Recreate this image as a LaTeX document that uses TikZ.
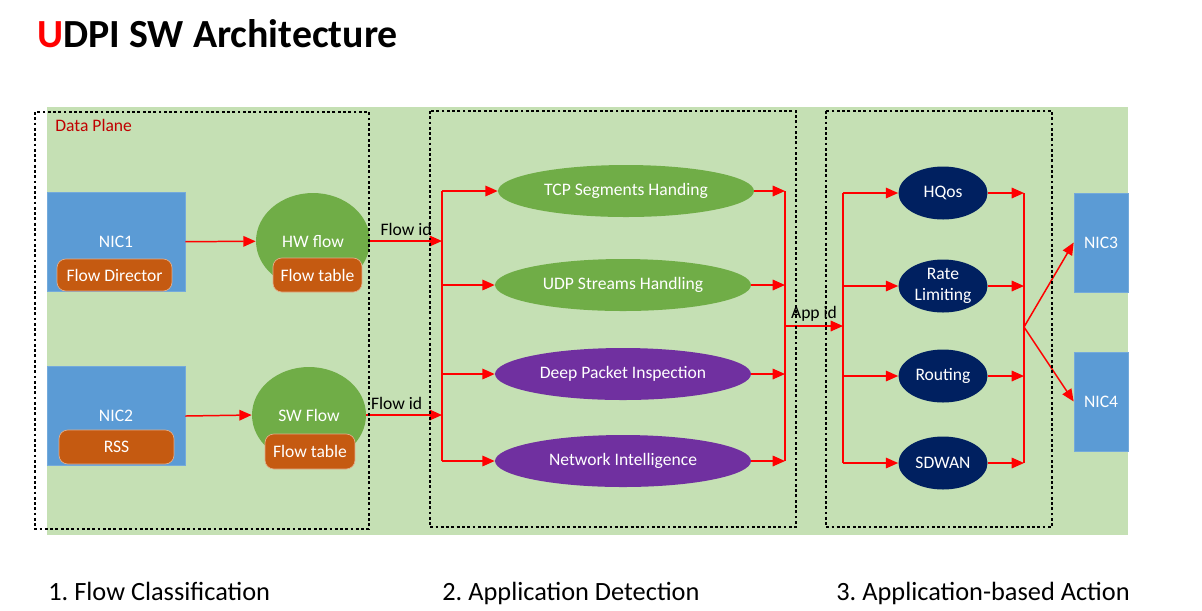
\documentclass[tikz,border=0pt]{standalone}
\usepackage{fontspec}
\setmainfont{Carlito}
\usetikzlibrary{shapes.geometric,arrows.meta}

\definecolor{planegreen}{HTML}{C5E0B4}
\definecolor{nicblue}{HTML}{5B9BD5}
\definecolor{taborange}{HTML}{C55A11}
\definecolor{appgreen}{HTML}{70AD47}
\definecolor{apppurple}{HTML}{7030A0}
\definecolor{actnavy}{HTML}{002060}
\definecolor{planered}{HTML}{C00000}

\tikzset{
  txt/.style={font=\fontsize{10}{12}\selectfont},
  nic/.style={txt, fill=nicblue, draw=nicblue!85!white, text=white, minimum width=2.76cm, minimum height=1.98cm, inner sep=0},
  tag/.style={txt, fill=taborange, draw=taborange!50!white, rounded corners=5pt, text=white, inner sep=0},
  flowball/.style={txt, ellipse, fill=appgreen, text=white, minimum width=2.28cm, minimum height=1.92cm, inner sep=0},
  detect/.style={txt, ellipse, text=white, minimum width=5.12cm, minimum height=1.04cm, inner sep=0},
  action/.style={txt, ellipse, fill=actnavy, text=white, minimum width=1.78cm, minimum height=1.06cm, inner sep=0, align=center},
  stage/.style={line width=1.6pt, dash pattern=on 1.6pt off 1.4pt},
  bus/.style={red, line width=0.85pt},
  flow/.style={bus, -{Triangle[length=7pt,width=6pt]}},
  idlabel/.style={txt, text=black, above, inner sep=2.5pt},
  caption/.style={anchor=base west, inner sep=0, font=\fontsize{15}{18}\selectfont},
}

\begin{document}
\frenchspacing
\begin{tikzpicture}[x=0.02cm, y=-0.02cm]
    \useasboundingbox (0,0) rectangle (1202,610);

    % title
    \node[anchor=base west, inner sep=0, font=\fontsize{22.7}{27}\selectfont\bfseries] (title) at (37,47) {{\color{red}U}DPI SW Architecture};

    % data plane
    \fill[planegreen] (47,107) rectangle (1128,535);
    \node[txt, anchor=west, text=planered, inner sep=0] (plane) at (55,125) {Data Plane};

    % stage 1
    \node[nic] (nic1) at (116,242) {NIC1};
    \node[tag, minimum width=2.3cm, minimum height=0.64cm] (fdir) at (114.5,275) {Flow Director};
    \node[nic] (nic2) at (116,416) {NIC2};
    \node[tag, minimum width=2.3cm, minimum height=0.68cm] (rss) at (116.5,447) {RSS};
    \node[flowball] (hw) at (313,241) {HW flow};
    \node[tag, minimum width=1.78cm, minimum height=0.68cm] (hwtab) at (317.5,275) {Flow table};
    \node[flowball] (sw) at (309,415) {SW Flow};
    \node[tag, minimum width=1.8cm, minimum height=0.7cm] (swtab) at (310,451.5) {Flow table};

    % stage 2
    \node[detect, fill=appgreen] (tcp) at (626,191) {TCP Segments Handing};
    \node[detect, fill=appgreen] (udp) at (623,285) {UDP Streams Handling};
    \node[detect, fill=apppurple] (dpi) at (623,374) {Deep Packet Inspection};
    \node[detect, fill=apppurple] (ni) at (623,461) {Network Intelligence};

    % stage 3
    \node[action] (hq) at (943,193) {HQos};
    \node[action] (rl) at (943,286) {Rate\\Limiting};
    \node[action] (rt) at (943,376) {Routing};
    \node[action] (sd) at (943,463) {SDWAN};
    \node[nic, minimum width=1.08cm] (nic3) at (1101,242.5) {NIC3};
    \node[nic, minimum width=1.08cm] (nic4) at (1101,401.5) {NIC4};

    \coordinate (busA) at (442,326);
    \coordinate (busB) at (785,326);
    \coordinate (busC) at (843,326);
    \coordinate (busD) at (1024,327);

    \draw[flow] (nic1) -- (hw);
    \draw[flow] (nic2.east) -- (sw.west);
    \draw[flow] (hw.east) -- (hw.east -| busA) node[idlabel, midway] {Flow id};
    \draw[flow] (sw.east) -- (sw.east -| busA) node[idlabel, pos=0.4] {Flow id};
    \draw[bus] (tcp.west -| busA) -- (ni.west -| busA);
    \foreach \n in {tcp,udp,dpi,ni}
      \draw[flow] (\n.west -| busA) -- (\n.west);
    \draw[bus] (tcp.east -| busB) -- (ni.east -| busB);
    \foreach \n in {tcp,udp,dpi,ni}
      \draw[flow] (\n.east) -- (\n.east -| busB);
    \draw[flow] (busB) -- (busC) node[idlabel, midway] {App id};
    \draw[bus] (hq.west -| busC) -- (sd.west -| busC);
    \foreach \n in {hq,rl,rt,sd}
      \draw[flow] (\n.west -| busC) -- (\n.west);
    \draw[bus] (hq.east -| busD) -- (sd.east -| busD);
    \foreach \n in {hq,rl,rt,sd}
      \draw[flow] (\n.east) -- (\n.east -| busD);
    \draw[flow] (busD) -- (nic3.west);
    \draw[flow] (busD) -- (nic4.west);

    % stage frames
    \draw[stage] (35,112) rectangle (369,529);
    \draw[stage] (430,111) rectangle (796,527);
    \draw[stage] (826,111) rectangle (1052,527);

    \node[caption] (cap1) at (48,600) {1. Flow Classification};
    \node[caption] (cap2) at (442,600) {2. Application Detection};
    \node[caption] (cap3) at (836,600) {3. Application-based Action};
\end{tikzpicture}
\end{document}
